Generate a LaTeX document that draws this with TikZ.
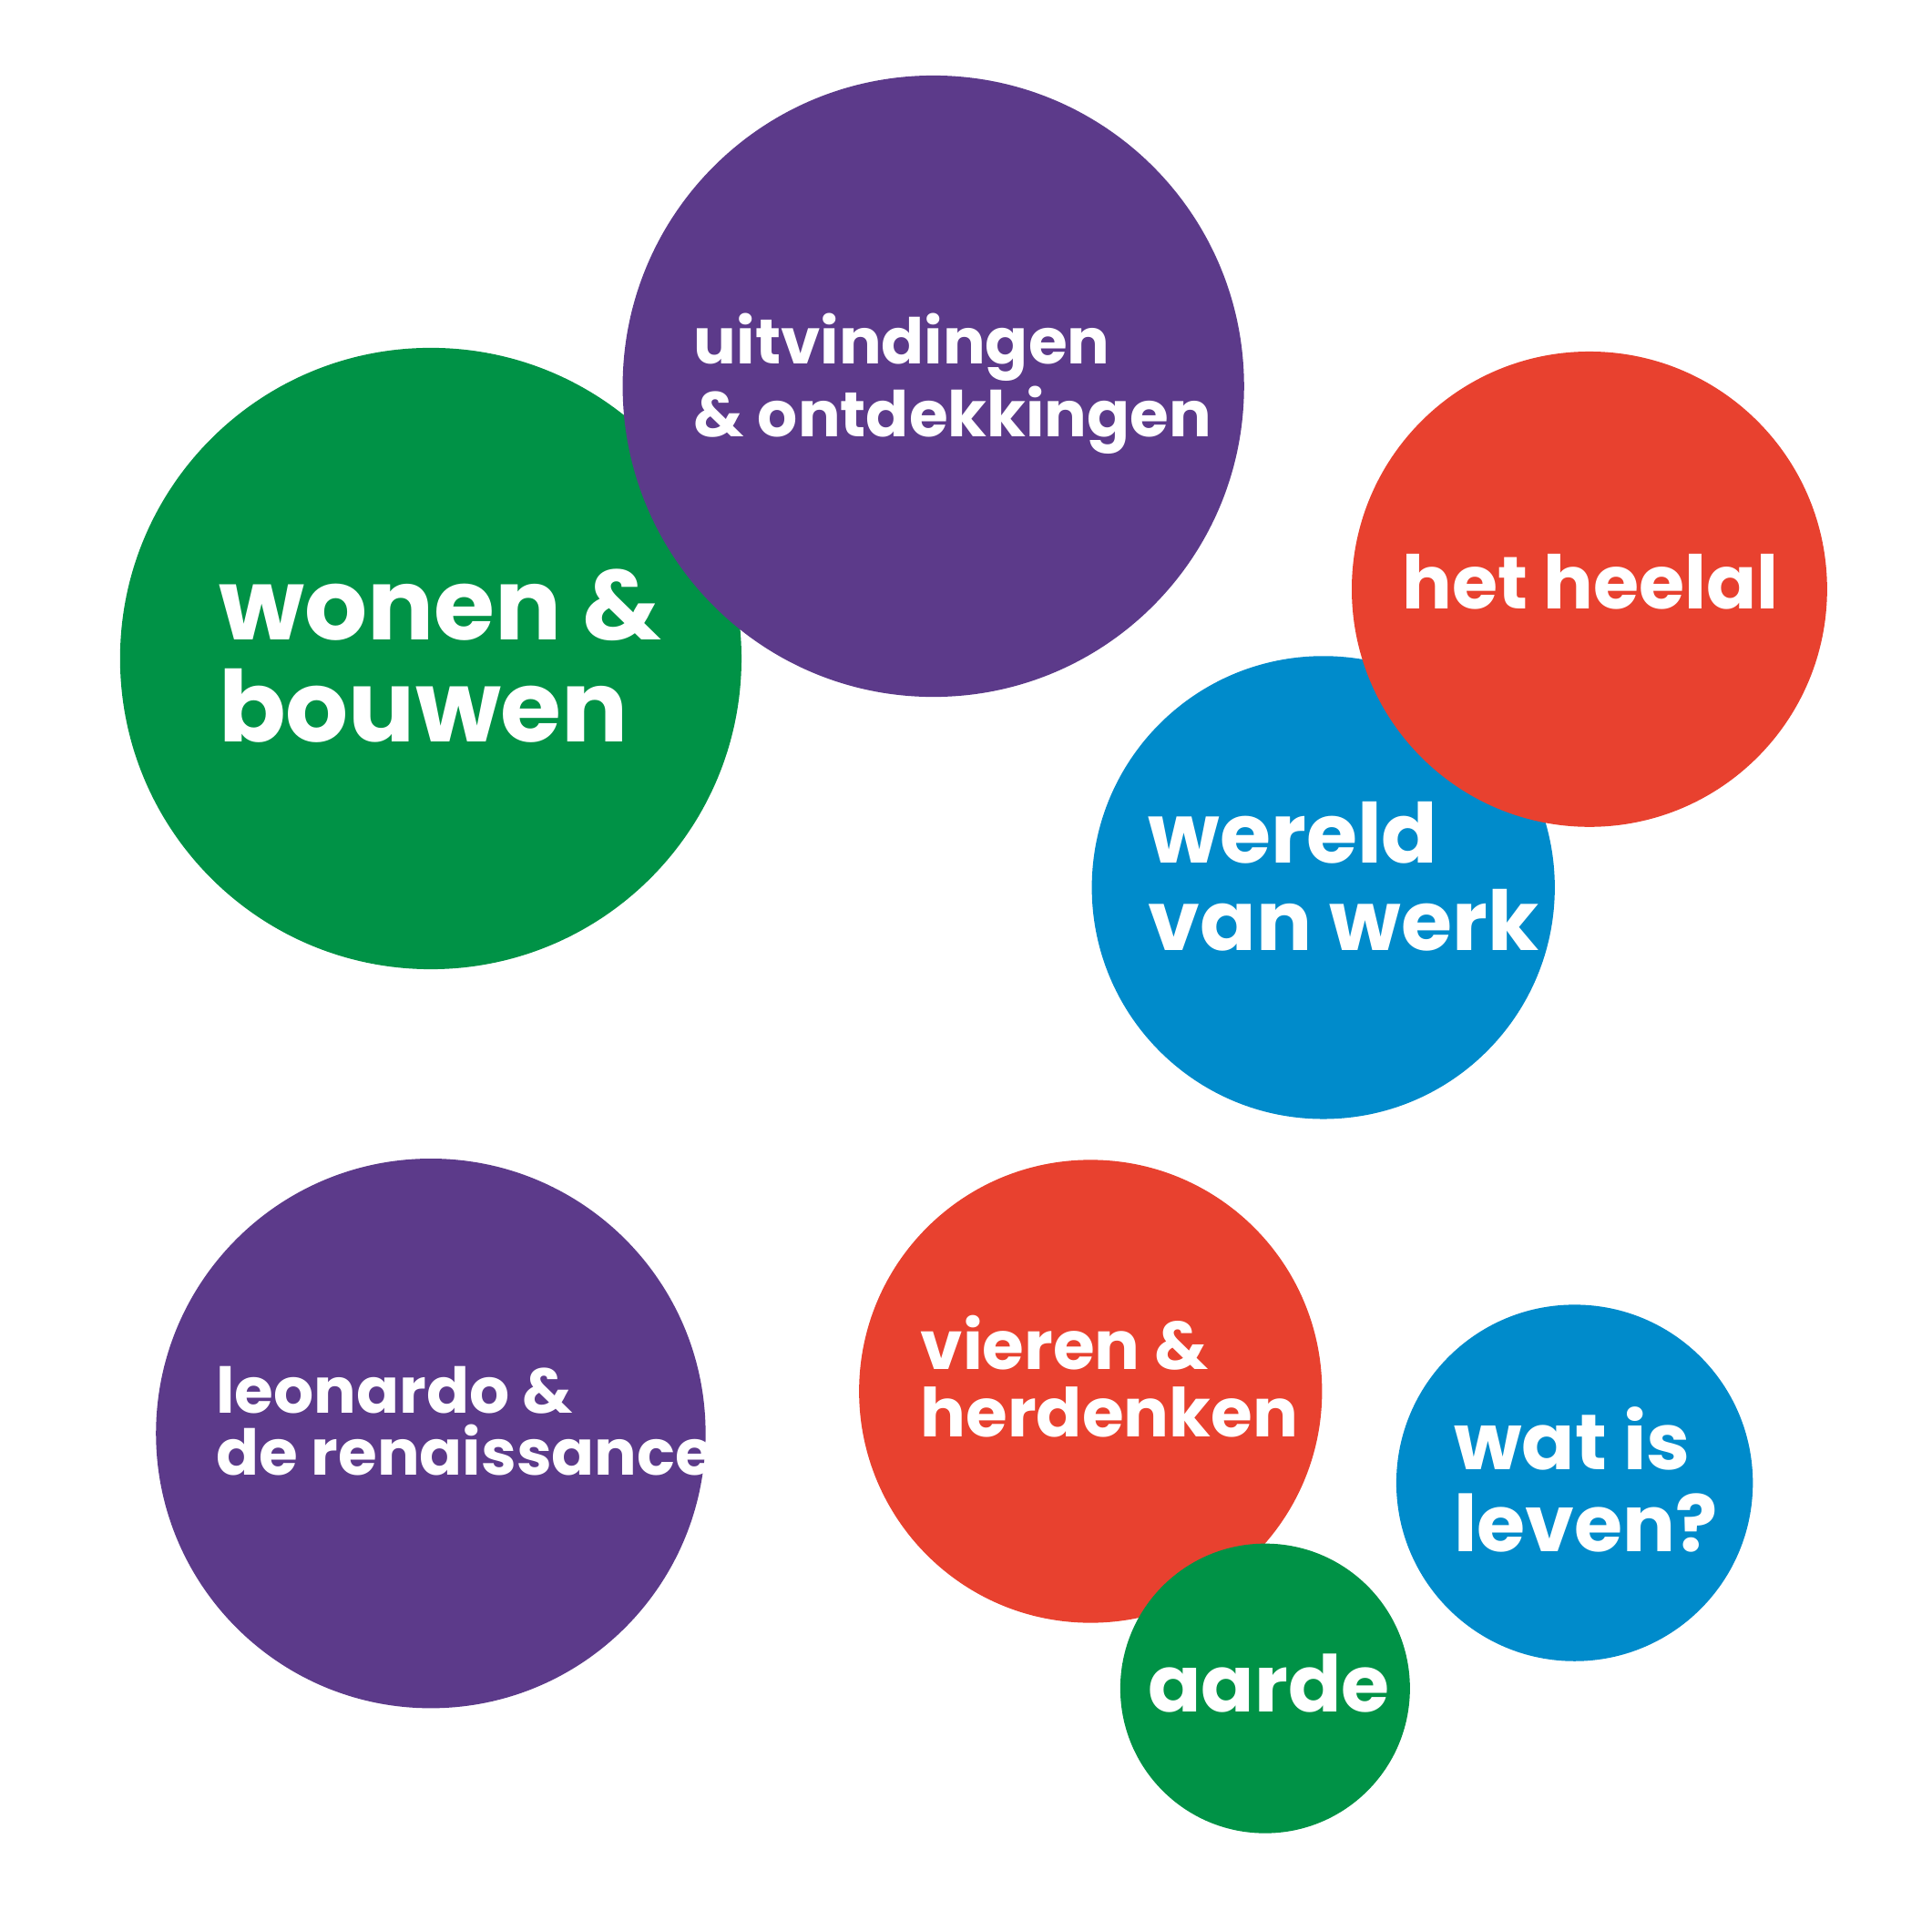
\documentclass[tikz,border=0pt]{standalone}
\usepackage{fontspec}
\setmainfont{Poppins}[UprightFont=* Bold]
\usetikzlibrary{positioning}
\definecolor{bubblepurple}{RGB}{92,58,138}
\definecolor{bubblegreen}{RGB}{0,146,70}
\definecolor{bubblered}{RGB}{232,65,47}
\definecolor{bubbleblue}{RGB}{0,139,203}
\begin{document}
\begin{tikzpicture}[x=0.01cm, y=-0.01cm,
    label/.style={text=white, anchor=west, inner sep=0pt, align=left}]
    \useasboundingbox (0,0) rectangle (1560,1560);
    % top left pair
    \fill[bubblegreen] (348,532) circle (251);
    \fill[bubblepurple] (754,312) circle (251);
    \node[label, font=\fontsize{22.7}{23.3}\selectfont] (wonen) at (176,530) {wonen \&\\bouwen};
    \node[label, font=\fontsize{14.5}{15.4}\selectfont] (uitvindingen) at (560,310) {uitvindingen\\\& ontdekkingen};
    
    % right pair
    \fill[bubbleblue] (1069,717) circle (187);
    \fill[bubblered] (1284,476) circle (192);
    \node[label, font=\fontsize{17}{18}\selectfont] (heelal) at (1132,470) {het heelal};
    \node[label, font=\fontsize{19}{20}\selectfont] (wereld) at (927,708) {wereld\\van werk};
    
    % bottom
    \fill[bubblepurple] (348,1158) circle (222);
    \node[label, font=\fontsize{14.5}{14.3}\selectfont] (leonardo) at (174,1148) {leonardo \&\\de renaissance};
    \fill[bubblered] (881,1124) circle (187);
    \fill[bubblegreen] (1022,1364) circle (117);
    \fill[bubbleblue] (1272,1198) circle (144);
    \node[label, font=\fontsize{15.5}{15.6}\selectfont] (vieren) at (743,1112) {vieren \&\\herdenken};
    \node[label, font=\fontsize{18}{18.8}\selectfont] (leven) at (1174,1195) {wat is\\leven?};
    \node[label, anchor=center, font=\fontsize{18}{19}\selectfont] (aarde) at (1025,1360) {aarde};
\end{tikzpicture}
\end{document}
